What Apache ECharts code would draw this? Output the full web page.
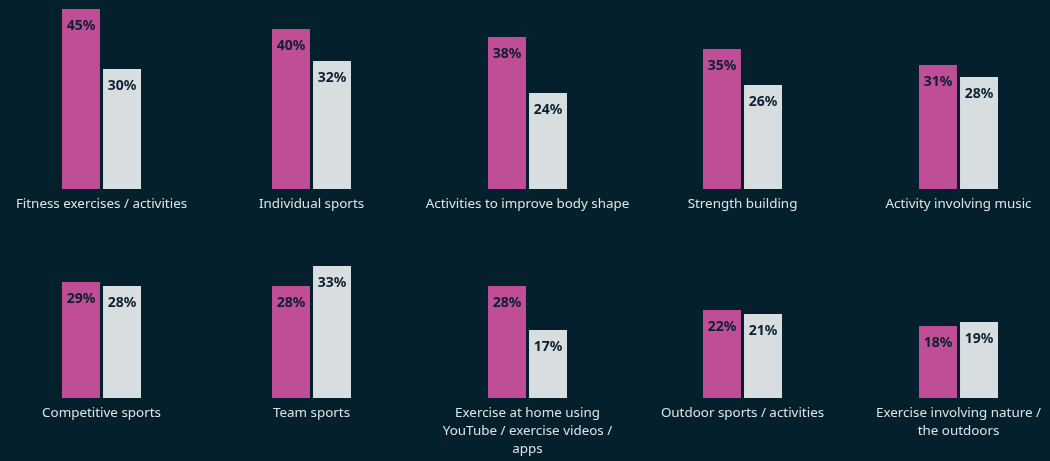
<!DOCTYPE html>
<html>
<head>
<meta charset="utf-8">
<script src="https://cdn.jsdelivr.net/npm/echarts@6/dist/echarts.min.js"></script>
<style>
  html, body { margin: 0; padding: 0; background: #03202c; }
  #chart { width: 1050px; height: 461px; }
</style>
</head>
<body>
<div id="chart"></div>
<script>
const categories = [
  'Fitness exercises / activities',
  'Individual sports',
  'Activities to improve body shape',
  'Strength building',
  'Activity involving music',
  'Competitive sports',
  'Team sports',
  'Exercise at home using\nYouTube / exercise videos /\napps',
  'Outdoor sports / activities',
  'Exercise involving nature /\nthe outdoors'
];
const seriesA = [45, 40, 38, 35, 31, 29, 28, 28, 22, 18];
const seriesB = [30, 32, 24, 26, 28, 28, 33, 17, 21, 19];

const colCenters = [101.5, 311.5, 527.5, 742.5, 958.5];
const rowTops = [9, 218];
const plotH = 180;
const FONT = '"Noto Sans", sans-serif';

const grids = [], xAxes = [], yAxes = [], series = [];
categories.forEach((cat, i) => {
  const r = Math.floor(i / 5), c = i % 5;
  grids.push({ left: colCenters[c] - 39.5, width: 79, top: rowTops[r], height: plotH });
  xAxes.push({
    type: 'category', gridIndex: i, data: [cat],
    axisLine: { show: false }, axisTick: { show: false },
    axisLabel: { interval: 0, color: '#dfe3e6', fontSize: 13.4, fontFamily: FONT, margin: 6, lineHeight: 18, align: 'center' }
  });
  yAxes.push({ type: 'value', gridIndex: i, min: 0, max: 45, show: false, splitLine: { show: false } });
  const lbl = {
    show: true, position: 'insideTop', distance: 10,
    formatter: '{c}%', color: '#0c2030', fontWeight: 'bold', fontSize: 14, fontFamily: FONT
  };
  series.push({
    type: 'bar', name: 'A', xAxisIndex: i, yAxisIndex: i, data: [seriesA[i]],
    barWidth: 38, barGap: '8%', itemStyle: { color: '#bf4e97' }, label: lbl, silent: true
  });
  series.push({
    type: 'bar', name: 'B', xAxisIndex: i, yAxisIndex: i, data: [seriesB[i]],
    barWidth: 38, barGap: '8%', itemStyle: { color: '#d8dde0' }, label: lbl, silent: true
  });
});

const chart = echarts.init(document.getElementById('chart'), null, { renderer: 'canvas' });
chart.setOption({
  backgroundColor: '#03202c',
  animation: false,
  grid: grids, xAxis: xAxes, yAxis: yAxes, series: series
});
</script>
</body>
</html>
